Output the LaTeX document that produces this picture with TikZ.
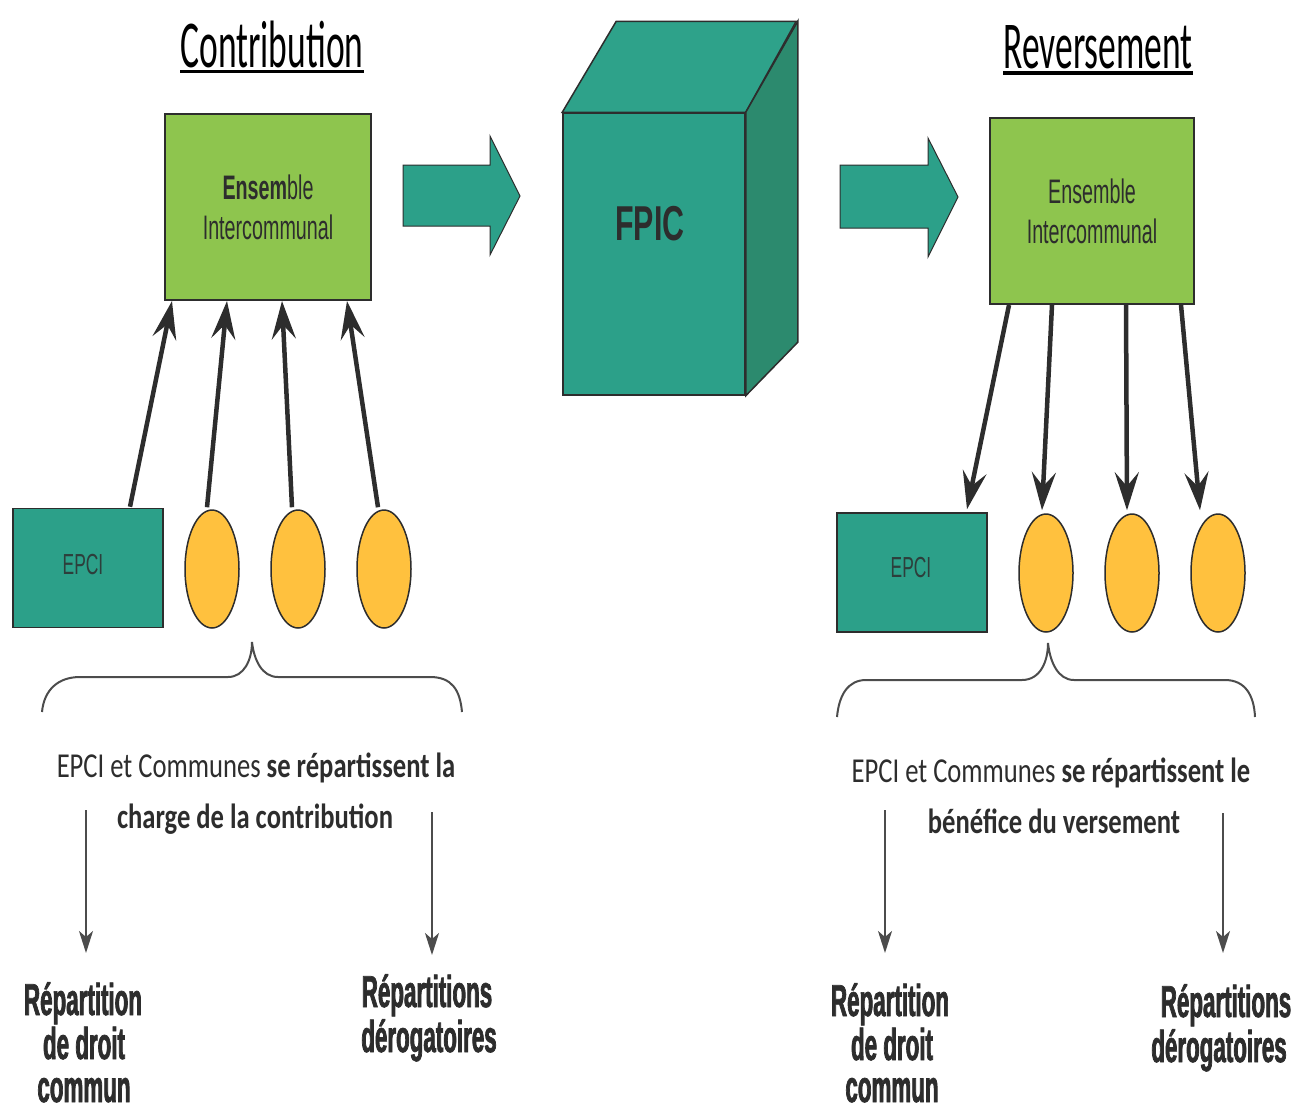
\documentclass[tikz,border=0pt]{standalone}
\usepackage{fontspec}
\usetikzlibrary{arrows.meta,shapes.geometric}
\newfontfamily\titlefont[FakeStretch=0.53]{Carlito}
\newfontfamily\midfont[FakeStretch=0.76]{Carlito}
\newfontfamily\labfont[FakeStretch=0.5, BoldFeatures={FakeBold=1.6}]{Liberation Sans}
\newfontfamily\boxfont[FakeStretch=0.58]{Liberation Sans}
\newfontfamily\fpicfont[FakeStretch=0.62]{Liberation Sans}
\newfontfamily\epcifont[FakeStretch=0.6]{Liberation Sans}
\definecolor{boxgreen}{RGB}{142,197,78}
\definecolor{tealA}{RGB}{44,160,137}
\definecolor{tealside}{RGB}{44,138,110}
\definecolor{tealtop}{RGB}{46,162,138}
\definecolor{ovalc}{RGB}{255,193,62}
\definecolor{ink}{RGB}{45,45,45}
\begin{document}
\begin{tikzpicture}[x=1pt,y=-1pt,
  titlestyle/.style={inner sep=0pt, anchor=base, font=\titlefont\fontsize{67}{70}\selectfont},
  greenbox/.style={draw=ink, line width=2pt, fill=boxgreen, inner sep=0pt, align=center,
     text=ink, font=\boxfont\fontsize{34}{40}\selectfont},
  epcibox/.style={draw=ink, line width=1.5pt, fill=tealA, minimum width=150pt, minimum height=119pt,
     inner sep=0pt},
  epcitext/.style={inner sep=0pt, anchor=base, text=ink!85!tealA, font=\epcifont\fontsize{29}{30}\selectfont},
  oval/.style={ellipse, draw=ink, line width=1.5pt, fill=ovalc, minimum width=54pt, minimum height=118pt, inner sep=0pt},
  conn/.style={line width=4.5pt, draw=ink, -{Stealth[length=38pt,width=24pt,inset=14pt]}},
  thinarrow/.style={line width=2pt, draw=ink!85, -{Stealth[length=22pt,width=14pt,inset=6pt]}},
  blockarrow/.style={fill=tealA, draw=ink, line width=1pt},
  midtext/.style={inner sep=0pt, anchor=base, text=ink, font=\midfont\fontsize{35}{40}\selectfont},
  labtext/.style={inner sep=0pt, anchor=base, text=ink, font=\labfont\bfseries\fontsize{44.7}{46}\selectfont},
  bracestyle/.style={line width=2pt, draw=ink!85}
]
\useasboundingbox (0,0) rectangle (1293,1111);

% titles
\node[titlestyle] (tC) at (272,67) {Contribution};
\draw[line width=3.5pt] ([yshift=-4.5pt]tC.base west) -- ([yshift=-4.5pt]tC.base east);
\node[titlestyle] (tR) at (1098,68) {Reversement};
\draw[line width=3.5pt] ([yshift=-5pt]tR.base west) -- ([yshift=-5pt]tR.base east);

% green boxes
\node[greenbox, minimum width=206pt, minimum height=186pt] (boxL) at (268,207) {\textbf{Ensem}ble\\Intercommunal};
\node[greenbox, minimum width=204pt, minimum height=186pt] (boxR) at (1092,211) {Ensemble\\Intercommunal};

% block arrows
\path[blockarrow] (403,165) -- (490,165) -- (490,136) -- (520,196) -- (490,255) -- (490,226) -- (403,226) -- cycle;
\path[blockarrow] (840,165) -- (928,165) -- (928,138) -- (958,197) -- (928,257) -- (928,228) -- (840,228) -- cycle;

% cube
\node[draw=ink, line width=1.5pt, fill=tealA, minimum width=182pt, minimum height=282pt, inner sep=0pt] (cube) at (654,254) {};
\path[draw=ink, line width=1.5pt, fill=tealtop] (cube.north west) -- ++(54,-91) -- ++(180,0) -- (cube.north east) -- cycle;
\path[draw=ink, line width=1.5pt, fill=tealside] (cube.north east) -- ++(52,-91) -- ++(0,321) -- (cube.south east) -- cycle;
\node[inner sep=0pt, anchor=base, text=ink, font=\fpicfont\bfseries\fontsize{49}{50}\selectfont] (fpic) at (650,240) {FPIC};

% EPCI boxes and communes
\node[epcibox] (epciL) at (88,568) {};
\node[epcitext] (epciLt) at (83,574) {EPCI};
\node[oval] (oL1) at (212,569) {};
\node[oval] (oL2) at (298,569) {};
\node[oval] (oL3) at (384,569) {};
\node[epcibox] (epciR) at (912,572.5) {};
\node[epcitext] (epciRt) at (911,577) {EPCI};
\node[oval] (oR1) at (1046,573) {};
\node[oval] (oR2) at (1132,573) {};
\node[oval] (oR3) at (1218,573) {};

% contribution arrows (up)
\draw[conn] ([xshift=42pt,yshift=1pt]epciL.north) -- ([xshift=8pt]boxL.south west);
\draw[conn] ([xshift=-5pt,yshift=2pt]oL1.north) -- ([xshift=63pt]boxL.south west);
\draw[conn] ([xshift=-6pt,yshift=2pt]oL2.north) -- ([xshift=118pt]boxL.south west);
\draw[conn] ([xshift=-6pt,yshift=2pt]oL3.north) -- ([xshift=183pt]boxL.south west);

% reversement arrows (down)
\draw[conn] ([xshift=20pt]boxR.south west) -- ([xshift=55pt,yshift=3pt]epciR.north);
\draw[conn] ([xshift=63pt]boxR.south west) -- ([xshift=-4pt,yshift=3pt]oR1.north);
\draw[conn] ([xshift=137pt]boxR.south west) -- ([xshift=-5pt,yshift=3pt]oR2.north);
\draw[conn] ([xshift=192pt]boxR.south west) -- ([xshift=-18pt,yshift=3pt]oR3.north);

% braces
\draw[bracestyle] (42,712) .. controls (44,690) and (58,677) .. (80,677) -- (228,677)
  .. controls (244,677) and (252,660) .. (252,642)
  .. controls (254,660) and (262,677) .. (278,677) -- (430,677)
  .. controls (452,677) and (460,690) .. (462,712);
\draw[bracestyle] (837,717) .. controls (839,695) and (848,680) .. (866,680) -- (1022,680)
  .. controls (1040,680) and (1048,662) .. (1048,643)
  .. controls (1050,662) and (1058,680) .. (1074,680) -- (1225,680)
  .. controls (1245,680) and (1254,695) .. (1255,717);

% middle texts
\node[midtext] (mL1) at (256,777) {EPCI et Communes \textbf{se répartissent la}};
\node[midtext] (mL2) at (255,828) {\textbf{charge de la contribution}};
\node[midtext] (mR1) at (1051,782) {EPCI et Communes \textbf{se répartissent le}};
\node[midtext] (mR2) at (1054,833) {\textbf{bénéfice du versement}};

% thin arrows
\coordinate (dL1s) at (86,810);  \coordinate (dL1e) at (86,953);
\coordinate (dL2s) at (432,812); \coordinate (dL2e) at (432,955);
\coordinate (dR1s) at (885,810); \coordinate (dR1e) at (885,953);
\coordinate (dR2s) at (1223,813); \coordinate (dR2e) at (1223,953);
\draw[thinarrow] (dL1s) -- (dL1e);
\draw[thinarrow] (dL2s) -- (dL2e);
\draw[thinarrow] (dR1s) -- (dR1e);
\draw[thinarrow] (dR2s) -- (dR2e);

% labels
\node[labtext] (lL1a) at (83,1015) {Répartition};
\node[labtext] (lL1b) at (84,1059) {de droit};
\node[labtext] (lL1c) at (84,1102) {commun};
\node[labtext] (lL2a) at (427,1007) {Répartitions};
\node[labtext] (lL2b) at (429,1052) {dérogatoires};
\node[labtext] (lR1a) at (890,1016) {Répartition};
\node[labtext] (lR1b) at (892,1060) {de droit};
\node[labtext] (lR1c) at (892,1102) {commun};
\node[labtext] (lR2a) at (1226,1017) {Répartitions};
\node[labtext] (lR2b) at (1219,1062) {dérogatoires};
\end{tikzpicture}
\end{document}
